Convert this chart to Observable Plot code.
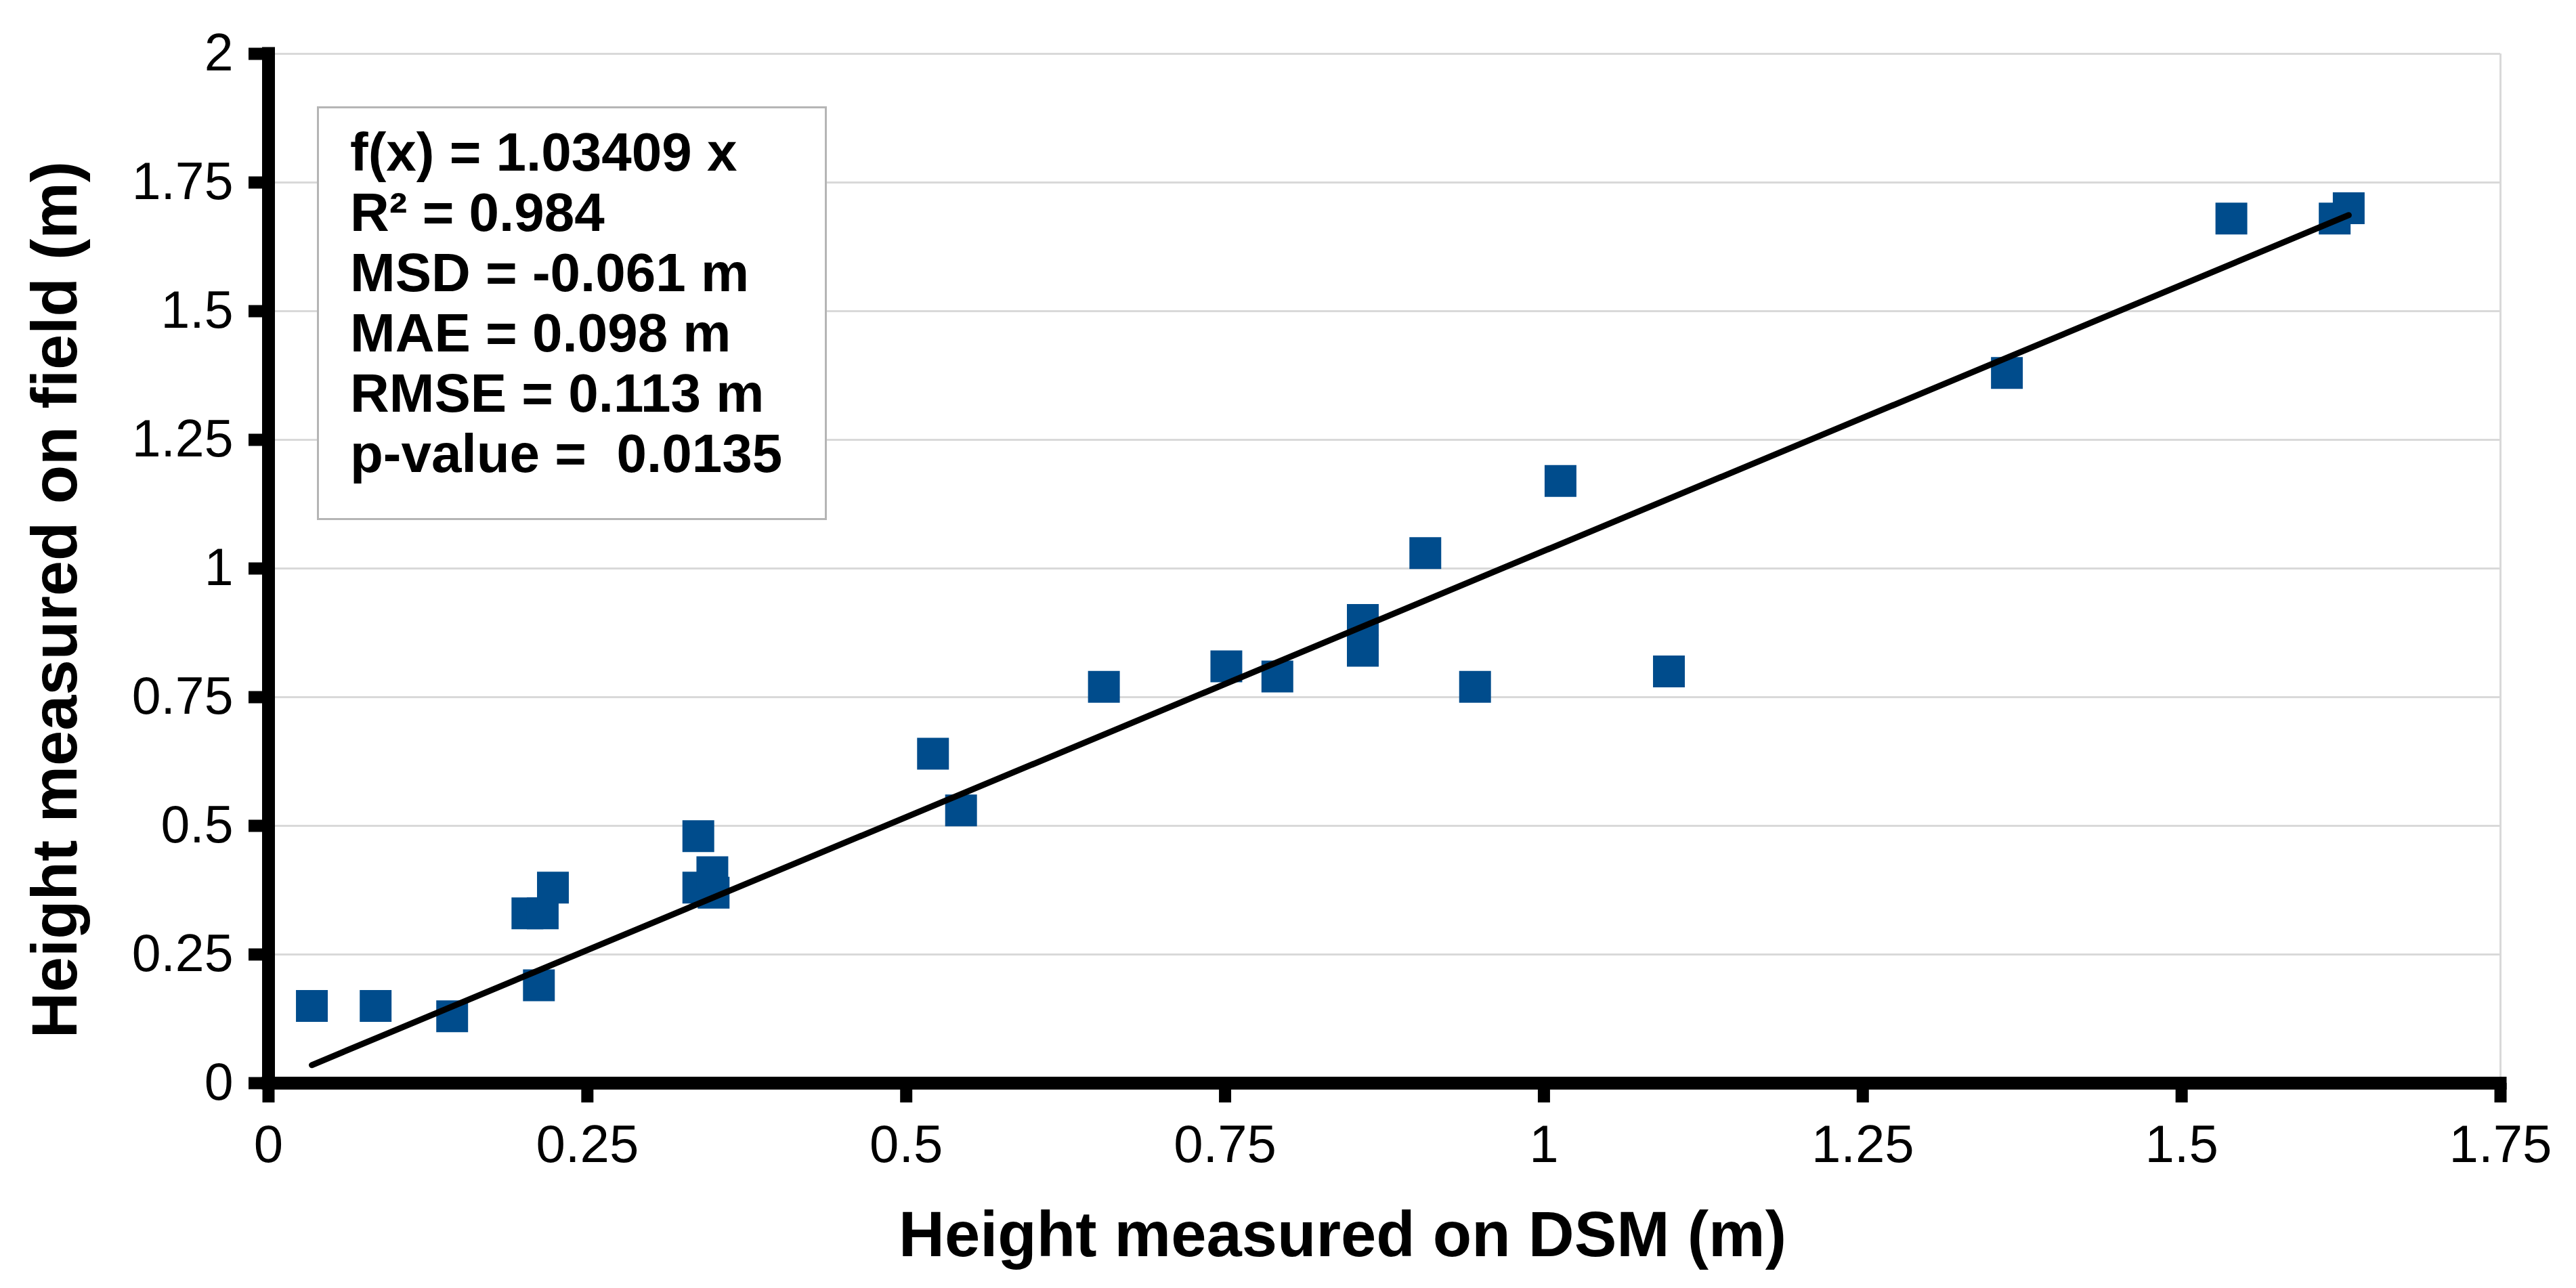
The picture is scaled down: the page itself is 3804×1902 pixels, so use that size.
<!DOCTYPE html>
<html>
<head>
<meta charset="utf-8">
<script src="https://cdn.jsdelivr.net/npm/d3@7"></script>
<script src="https://cdn.jsdelivr.net/npm/@observablehq/plot@0.6"></script>
<style>
  html, body { margin: 0; padding: 0; background: #ffffff; }
  #wrap { position: relative; width: 3804px; height: 1902px; }
  #stats {
    position: absolute; left: 468px; top: 157px; width: 753px; height: 611px;
    box-sizing: border-box; border: 3px solid #b5b5b5; background: #ffffff;
    padding: 20px 0 0 46px;
    font-family: "Liberation Sans", Arial, sans-serif; font-weight: bold;
    font-size: 80px; line-height: 89px; color: #000; white-space: pre;
  }
</style>
</head>
<body>
<div id="wrap"><div id="stats"></div></div>
<script>
// ---- data ----
const dsmHeight   = [0.034, 0.084, 0.144, 0.212, 0.203, 0.215, 0.223, 0.337, 0.337, 0.348, 0.349,
                     0.521, 0.543, 0.655, 0.751, 0.791, 0.858, 0.858, 0.907, 0.946, 1.013, 1.098,
                     1.363, 1.539, 1.620, 1.631];
const fieldHeight = [0.15, 0.15, 0.13, 0.19, 0.33, 0.33, 0.38, 0.48, 0.38, 0.41, 0.37,
                     0.64, 0.53, 0.77, 0.81, 0.79, 0.90, 0.84, 1.03, 0.77, 1.17, 0.80,
                     1.38, 1.68, 1.68, 1.70];
const slope = 1.03409;
const xTicks = [0, 0.25, 0.5, 0.75, 1, 1.25, 1.5, 1.75];
const xTickLabels = ["0", "0.25", "0.5", "0.75", "1", "1.25", "1.5", "1.75"];
const yTicks = [0, 0.25, 0.5, 0.75, 1, 1.25, 1.5, 1.75, 2];
const yTickLabels = ["0", "0.25", "0.5", "0.75", "1", "1.25", "1.5", "1.75", "2"];
const xDomain = [0, 1.75];
const yDomain = [0, 2];
const xTitle = "Height measured on DSM (m)";
const yTitle = "Height measured on field (m)";
const statsLines = [
  "f(x) = 1.03409 x",
  "R² = 0.984",
  "MSD = -0.061 m",
  "MAE = 0.098 m",
  "RMSE = 0.113 m",
  "p-value =  0.0135"
];

// ---- derived tables ----
const points = dsmHeight.map((x, i) => ({x, y: fieldHeight[i]}));
const xExt = d3.extent(dsmHeight);
const trend = xExt.map(x => ({x, y: slope * x}));
const xLab = new Map(xTicks.map((t, i) => [t, xTickLabels[i]]));
const yLab = new Map(yTicks.map((t, i) => [t, yTickLabels[i]]));

const font = "'Liberation Sans', Arial, Helvetica, sans-serif";
const gridColor = "#d9d9d9";

const chart = Plot.plot({
  width: 3804,
  height: 1902,
  marginLeft: 396,
  marginRight: 112,
  marginTop: 79,
  marginBottom: 303,
  style: {fontFamily: font, fontSize: "77px", background: "#ffffff", color: "#000"},
  x: {domain: xDomain},
  y: {domain: yDomain},
  marks: [
    Plot.gridY(yTicks.slice(1), {stroke: gridColor, strokeOpacity: 1, strokeWidth: 3}),
    Plot.ruleX([xDomain[1]], {stroke: gridColor, strokeWidth: 3}),
    Plot.dot(points, {x: "x", y: "y", symbol: "square", r: 26.5, fill: "#004c8c", stroke: "none"}),
    Plot.line(trend, {x: "x", y: "y", stroke: "#000", strokeWidth: 9}),
    Plot.ruleY([0], {stroke: "#000", strokeWidth: 19, strokeLinecap: "square"}),
    Plot.ruleX([0], {stroke: "#000", strokeWidth: 19, strokeLinecap: "square"}),
    Plot.axisX(xTicks, {tickSize: 29, tickPadding: 32, strokeWidth: 18, fontSize: 78,
      tickFormat: d => xLab.get(d), label: null}),
    Plot.axisY(yTicks, {tickSize: 29, tickPadding: 23, strokeWidth: 18, fontSize: 77,
      tickFormat: d => yLab.get(d), label: null}),
    Plot.text([xTitle], {text: d => d, frameAnchor: "bottom", textAnchor: "middle", lineAnchor: "middle",
      dx: -62, dy: 225, fontSize: 94, fontWeight: "bold", fill: "#000"}),
    Plot.text([yTitle], {text: d => d, frameAnchor: "left", textAnchor: "middle", lineAnchor: "middle", rotate: -90,
      dx: -314, dy: 46, fontSize: 94, fontWeight: "bold", fill: "#000"})
  ]
});

document.getElementById("wrap").prepend(chart);
document.getElementById("stats").textContent = statsLines.join("\n");
</script>
</body>
</html>
